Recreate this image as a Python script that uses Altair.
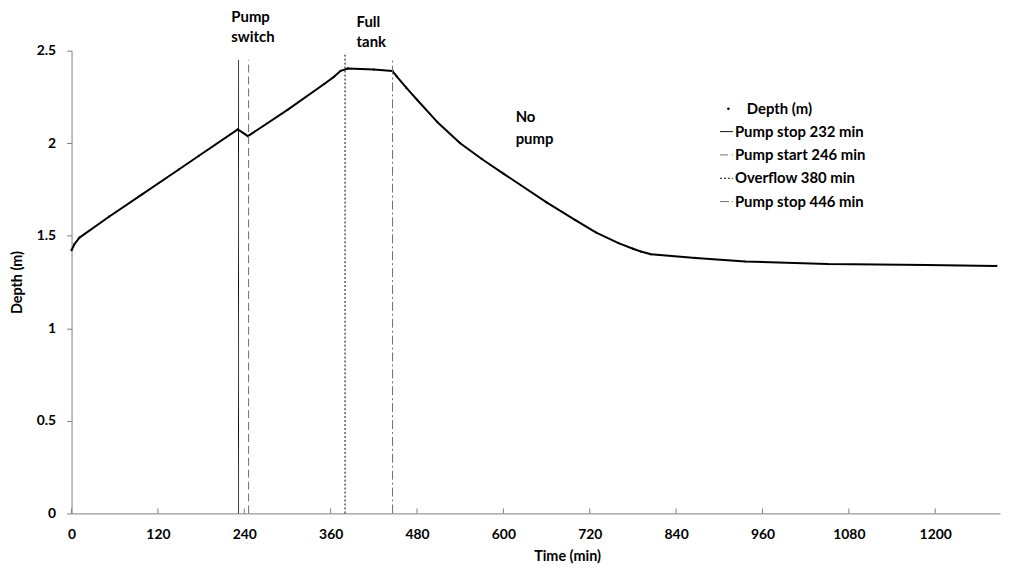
import altair as alt
import pandas as pd

# ---- data ----
time_min = [0, 4, 11, 52, 98, 149, 177, 231, 245, 300, 351, 365, 374, 384, 420, 446,
            452, 465, 480, 508, 540, 570, 600, 660, 700, 729, 760, 780, 791, 805,
            867, 936, 1050, 1188, 1285]
depth_m = [1.422, 1.455, 1.49, 1.603, 1.724, 1.858, 1.932, 2.075, 2.038, 2.18, 2.32, 2.36,
           2.391, 2.404, 2.398, 2.39, 2.36, 2.30, 2.235, 2.115, 2.0, 1.915, 1.836, 1.68,
           1.585, 1.517, 1.46, 1.43, 1.415, 1.40, 1.38, 1.361, 1.347, 1.342, 1.337]

event_time = [232, 246, 380, 446]
event_label = ["Pump stop 232 min", "Pump start 246 min", "Overflow 380 min", "Pump stop 446 min"]
event_top = [2.45, 2.45, 2.49, 2.46]

x_ticks = [0, 120, 240, 360, 480, 600, 720, 840, 960, 1080, 1200]
y_ticks = [0, 0.5, 1, 1.5, 2, 2.5]

ann_text = ["Pump", "switch", "Full", "tank", "No", "pump"]
ann_time = [222, 222, 396, 396, 617, 617]
ann_depth = [2.655, 2.548, 2.628, 2.521, 2.115, 1.995]

# ---- tables ----
depth_df = pd.DataFrame({"t": time_min, "d": depth_m, "series": "Depth (m)"})
event_df = pd.DataFrame({"t": event_time, "event": event_label, "top": event_top, "bottom": 0})
tick_df = pd.DataFrame({"t": x_ticks})
ann_df = pd.DataFrame({"t": ann_time, "d": ann_depth, "text": ann_text})

W, H = 935, 466
FONT = "Lato"
AXIS_GREY = "#7f7f7f"

xs = alt.Scale(domain=[0, 1290], nice=False, zero=False)
ys = alt.Scale(domain=[0, 2.5], nice=False)

x_axis = alt.Axis(values=x_ticks, format="d", ticks=False, tickSize=0, labelPadding=14,
                  grid=False, title="Time (min)", titleX=499, titleY=43,
                  titleBaseline="middle", titleAlign="center", labelFlush=False)
y_axis = alt.Axis(values=y_ticks, format="~g", tickSize=5, labelPadding=11, grid=False,
                  title="Depth (m)", titleX=-54, titleY=H / 2, titleAngle=270,
                  titleBaseline="middle", titleAlign="center")

base_x = alt.X("t:Q", scale=xs, axis=x_axis)
base_y = alt.Y("d:Q", scale=ys, axis=y_axis)

depth_line = alt.Chart(depth_df).mark_line(
    color="black", strokeWidth=2, strokeJoin="round"
).encode(x=base_x, y=base_y)

depth_pts = alt.Chart(depth_df).mark_circle(size=5, opacity=1).encode(
    x=alt.X("t:Q", scale=xs),
    y=alt.Y("d:Q", scale=ys),
    color=alt.Color(
        "series:N",
        scale=alt.Scale(domain=["Depth (m)"], range=["black"]),
        legend=alt.Legend(orient="none", legendX=654, legendY=51, title=None,
                          symbolSize=7, labelOffset=11, padding=0,
                          labelFont=FONT, labelFontSize=15, labelFontWeight="bold",
                          labelColor="black"),
    ),
)

ev_legend = alt.Legend(orient="none", legendX=652, legendY=74, title=None,
                       symbolType="stroke", symbolSize=170, symbolStrokeWidth=1,
                       labelOffset=1, rowPadding=7.5, padding=0,
                       labelFont=FONT, labelFontSize=15, labelFontWeight="bold",
                       labelColor="black")

events = alt.Chart(event_df).mark_rule(strokeWidth=1).encode(
    x=alt.X("t:Q", scale=xs),
    y=alt.Y("bottom:Q", scale=ys),
    y2="top:Q",
    strokeDash=alt.StrokeDash(
        "event:N",
        scale=alt.Scale(domain=event_label, range=[[1, 0], [8, 4], [2, 2], [9, 3, 2, 3]]),
        legend=ev_legend,
    ),
    stroke=alt.Stroke(
        "event:N",
        scale=alt.Scale(domain=event_label, range=["black", "#6e6e6e", "black", "#6e6e6e"]),
        legend=ev_legend,
    ),
)

inner_ticks = alt.Chart(tick_df).mark_rule(color=AXIS_GREY, strokeWidth=1).encode(
    x=alt.X("t:Q", scale=xs),
    y=alt.value(H - 5),
    y2=alt.value(H),
)

annotations = alt.Chart(ann_df).mark_text(
    align="left", baseline="alphabetic", font=FONT, fontSize=15, fontWeight="bold",
    color="black", clip=False
).encode(
    x=alt.X("t:Q", scale=xs),
    y=alt.Y("d:Q", scale=ys),
    text="text:N",
)

chart = alt.layer(depth_line, depth_pts, events, inner_ticks, annotations).properties(
    width=W, height=H,
    autosize=alt.AutoSizeParams(type="none"),
    padding={"left": 64, "top": 41, "right": 1, "bottom": 52},
).configure(
    font=FONT,
).configure_view(
    stroke=None,
).configure_axis(
    labelFont=FONT, labelFontSize=14, labelFontWeight="bold", labelColor="black",
    titleFont=FONT, titleFontSize=14.5, titleFontWeight="bold", titleColor="black",
    domainColor=AXIS_GREY, tickColor=AXIS_GREY, domainWidth=1,
)

chart.save("out.html", embed_options={"renderer": "svg", "actions": False})
